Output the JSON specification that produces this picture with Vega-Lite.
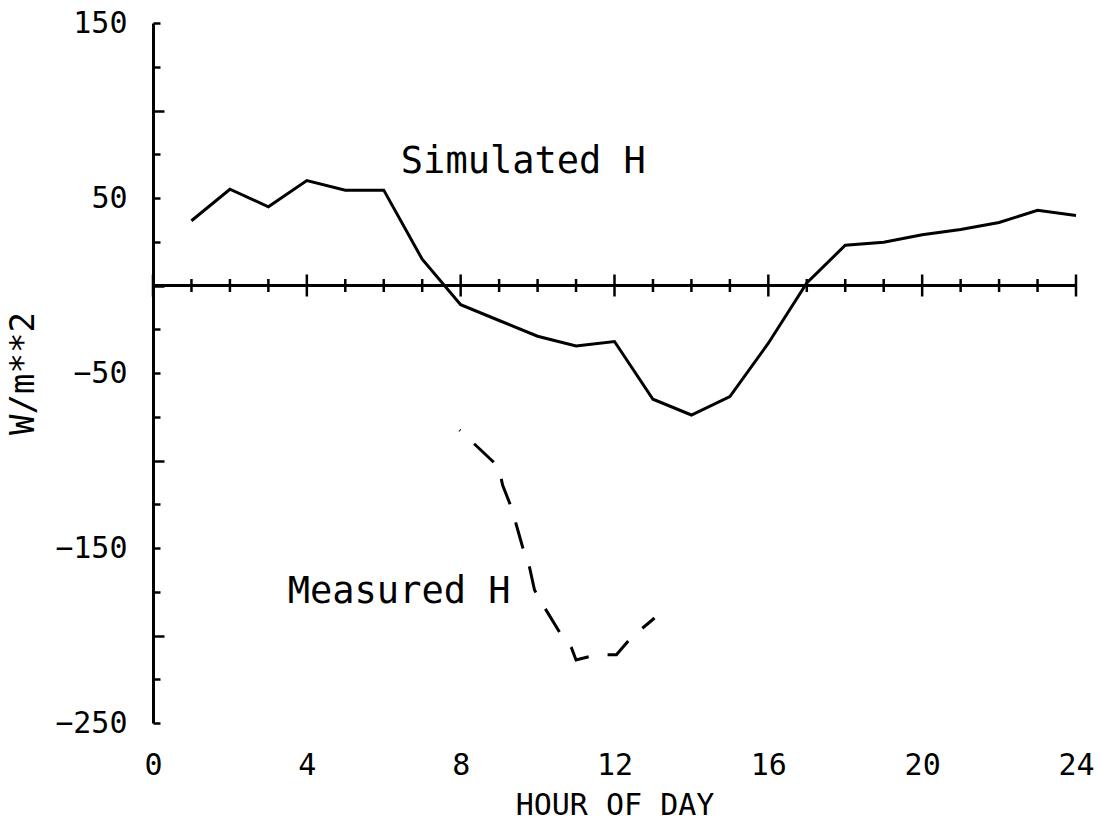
{
  "$schema": "https://vega.github.io/schema/vega-lite/v6.json",
  "autosize": "none",
  "width": 923,
  "height": 700,
  "padding": {"left": 153, "top": 23, "right": 29, "bottom": 101},
  "background": "white",
  "config": {"view": {"stroke": null}},
  "datasets": {
    "sim": [
      {"hour": 1, "H": 37}, {"hour": 2, "H": 55}, {"hour": 3, "H": 45}, {"hour": 4, "H": 60},
      {"hour": 5, "H": 54.5}, {"hour": 6, "H": 54.5}, {"hour": 7, "H": 15}, {"hour": 8, "H": -11},
      {"hour": 9, "H": -20}, {"hour": 10, "H": -29}, {"hour": 11, "H": -34.5}, {"hour": 12, "H": -32},
      {"hour": 13, "H": -65}, {"hour": 14, "H": -74}, {"hour": 15, "H": -63.5}, {"hour": 16, "H": -33},
      {"hour": 17, "H": 1.5}, {"hour": 18, "H": 23}, {"hour": 19, "H": 24.7}, {"hour": 20, "H": 29},
      {"hour": 21, "H": 32}, {"hour": 22, "H": 36}, {"hour": 23, "H": 43}, {"hour": 24, "H": 40}
    ],
    "meas": [
      {"hour": 7.97, "H": -82.6}, {"hour": 8.44, "H": -92.3}, {"hour": 8.99, "H": -103.7},
      {"hour": 9.09, "H": -114}, {"hour": 9.32, "H": -127}, {"hour": 9.45, "H": -137},
      {"hour": 9.61, "H": -149.4}, {"hour": 9.79, "H": -160.9}, {"hour": 9.92, "H": -174},
      {"hour": 10.18, "H": -184}, {"hour": 10.57, "H": -198}, {"hour": 10.88, "H": -207},
      {"hour": 11.0, "H": -214}, {"hour": 11.35, "H": -212}, {"hour": 11.79, "H": -211},
      {"hour": 12.05, "H": -211}, {"hour": 12.44, "H": -201}, {"hour": 12.88, "H": -193},
      {"hour": 13.04, "H": -190}
    ],
    "hours": [
      {"hour": 0}, {"hour": 1}, {"hour": 2}, {"hour": 3}, {"hour": 4}, {"hour": 5}, {"hour": 6},
      {"hour": 7}, {"hour": 8}, {"hour": 9}, {"hour": 10}, {"hour": 11}, {"hour": 12}, {"hour": 13},
      {"hour": 14}, {"hour": 15}, {"hour": 16}, {"hour": 17}, {"hour": 18}, {"hour": 19}, {"hour": 20},
      {"hour": 21}, {"hour": 22}, {"hour": 23}, {"hour": 24}
    ],
    "labels": [
      {"hour": 9.63, "H": 70.6, "text": "Simulated H"},
      {"hour": 6.4, "H": -175, "text": "Measured H"}
    ]
  },
  "layer": [
    {
      "data": {"name": "sim"},
      "mark": {"type": "line", "color": "black", "strokeWidth": 3},
      "encoding": {
        "x": {
          "field": "hour", "type": "quantitative", "title": "HOUR OF DAY",
          "scale": {"domain": [0, 24], "nice": false, "zero": false},
          "axis": {
            "title": "HOUR OF DAY",
            "values": [0, 4, 8, 12, 16, 20, 24],
            "domain": false, "ticks": false, "grid": false,
            "labelFlush": false, "labelOverlap": false,
            "labelFont": "DejaVu Sans Mono", "labelFontSize": 30, "labelColor": "black",
            "labelPadding": 27,
            "titleFont": "DejaVu Sans Mono", "titleFontSize": 30, "titleFontWeight": "normal",
            "titleColor": "black", "titlePadding": 10
          }
        },
        "y": {
          "field": "H", "type": "quantitative", "title": "W/m**2",
          "scale": {"domain": [-250, 150], "nice": false, "zero": false},
          "axis": {
            "title": "W/m**2",
            "values": [150, 125, 100, 75, 50, 25, 0, -25, -50, -75, -100, -125, -150, -175, -200, -225, -250],
            "labelExpr": "((datum.value + 250) % 100 === 0) ? datum.label : ''",
            "tickSize": {"condition": {"test": "datum.value % 100 === 0", "value": -11}, "value": -7},
            "tickWidth": 2.5, "tickColor": "black",
            "domainColor": "black", "domainWidth": 3,
            "grid": false, "labelOverlap": false, "labelFlush": false,
            "labelFont": "DejaVu Sans Mono", "labelFontSize": 30, "labelColor": "black",
            "labelPadding": 33,
            "titleFont": "DejaVu Sans Mono", "titleFontSize": 34, "titleFontWeight": "normal",
            "titleColor": "black", "titlePadding": 14
          }
        }
      }
    },
    {
      "data": {"values": [{}]},
      "mark": {"type": "rule", "color": "black", "strokeWidth": 3},
      "encoding": {"y": {"datum": 0, "type": "quantitative", "title": "W/m**2"}}
    },
    {
      "data": {"name": "hours"},
      "mark": {"type": "tick", "orient": "vertical", "color": "black", "thickness": 2.5, "opacity": 1},
      "encoding": {
        "x": {"field": "hour", "type": "quantitative", "title": "HOUR OF DAY"},
        "y": {"datum": 0, "type": "quantitative", "title": "W/m**2"},
        "size": {"condition": {"test": "datum.hour % 4 === 0", "value": 22}, "value": 13}
      }
    },
    {
      "data": {"name": "meas"},
      "mark": {"type": "line", "color": "black", "strokeWidth": 3, "strokeDash": [27, 19], "strokeDashOffset": 26},
      "encoding": {
        "x": {"field": "hour", "type": "quantitative", "title": "HOUR OF DAY"},
        "y": {"field": "H", "type": "quantitative", "title": "W/m**2"}
      }
    },
    {
      "data": {"name": "labels"},
      "mark": {"type": "text", "font": "DejaVu Sans Mono", "fontSize": 37, "color": "black", "align": "center", "baseline": "middle"},
      "encoding": {
        "x": {"field": "hour", "type": "quantitative", "title": "HOUR OF DAY"},
        "y": {"field": "H", "type": "quantitative", "title": "W/m**2"},
        "text": {"field": "text"}
      }
    }
  ]
}
